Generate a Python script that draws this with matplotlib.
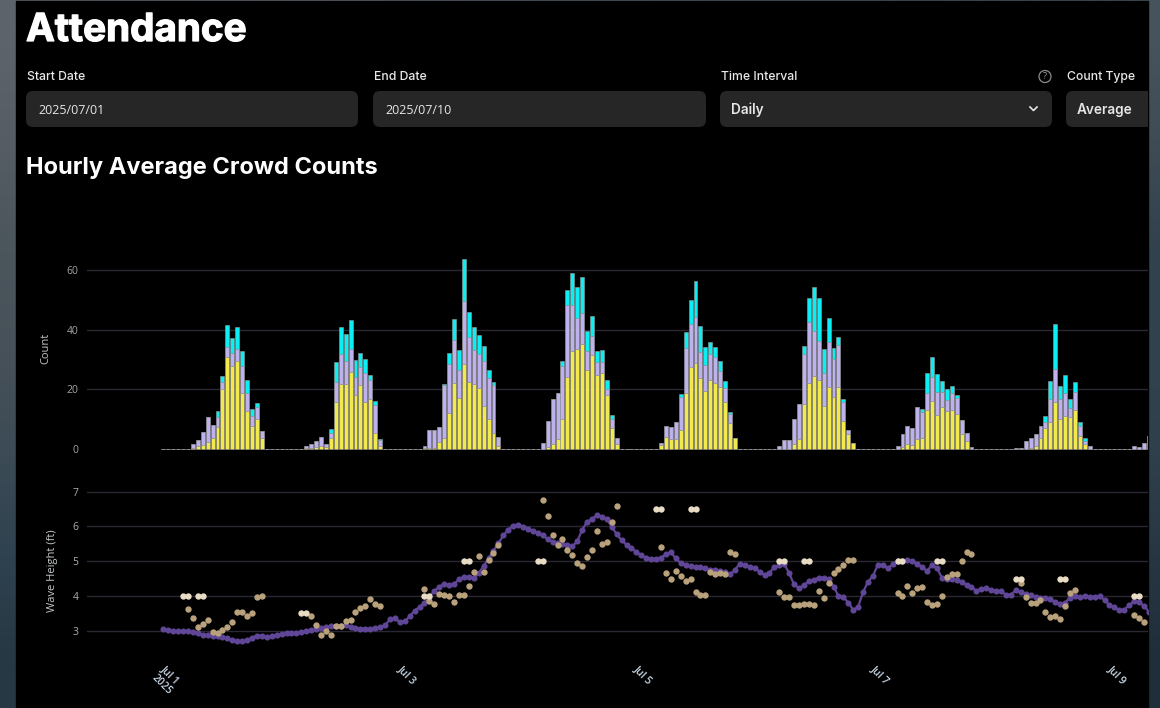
#Hourly crowd counts and wave height dashboard
import numpy as np
from matplotlib import pyplot as plt
from matplotlib import patheffects
from matplotlib.patches import FancyBboxPatch, Rectangle
from matplotlib.transforms import ScaledTranslation

W, H = 1160, 708

# first hour of each daily run of bars, hours counted from Jul 1 00:00
day_start = [6, 29, 53, 77, 101, 125, 149, 173, 197]

yellow_days = [
    [0.3, 1.0, 1.2, 2.2, 3.6, 7.3, 20.0, 30.8, 27.9, 29.5, 18.7, 12.8, 7.8, 10.0, 3.6],
    [0.2, 0.2, 0.8, 1.1, 0.8, 3.6, 15.8, 21.9, 21.9, 25.7, 18.1, 21.4, 15.6, 16.8, 5.4, 1.1],
    [0.2, 0.3, 0.4, 2.3, 3.6, 12.2, 22.0, 17.0, 28.4, 22.3, 21.9, 20.5, 14.3, 10.0, 5.5, 1.1],
    [0, 0.6, 1.6, 3.5, 10.2, 24.1, 32.9, 33.6, 35.2, 26.3, 31.6, 24.7, 25.4, 18.0, 6.9, 1.8],
    [1.3, 4.1, 3.2, 3.5, 6.3, 18.9, 27.4, 28.8, 23.7, 19.5, 23.1, 22.0, 20.7, 15.7, 8.7, 3.6],
    [0, 0, 0, 1.8, 3.5, 15.1, 22.0, 24.5, 23.2, 14.4, 20.7, 17.5, 20.8, 9.5, 4.9, 2.1],
    [0, 0.6, 1.8, 1.2, 3.5, 3.8, 13.0, 16.2, 11.5, 14.0, 12.6, 13.2, 11.6, 5.1, 2.6, 0],
    [0, 0, 0, 0.4, 1.1, 3.8, 7.2, 9.0, 15.7, 10.1, 11.1, 10.6, 13.0, 4.3, 1.8, 0],
    [0, 0, 0, 0.4],
]
purple_days = [
    [1.3, 2.0, 4.4, 8.5, 4.3, 3.4, 2.3, 3.4, 4.3, 4.1, 9.1, 5.9, 3.4, 4.0, 2.3],
    [0.8, 1.5, 1.9, 2.9, 1.0, 1.9, 6.5, 10.0, 7.7, 7.9, 5.9, 6.0, 9.7, 6.4, 9.2, 1.9],
    [0.9, 5.9, 5.8, 5.1, 17.9, 16.3, 14.5, 9.4, 21.3, 15.2, 11.4, 11.2, 15.3, 13.9, 15.8, 2.9],
    [2.1, 8.8, 15.0, 15.3, 17.7, 24.1, 15.2, 10.3, 10.3, 6.5, 6.4, 4.6, 3.9, 2.2, 3.1, 1.9],
    [0.8, 3.7, 4.3, 5.5, 11.1, 14.8, 14.5, 15.4, 8.7, 8.7, 8.8, 8.7, 5.4, 4.6, 3.1, 0],
    [1.1, 3.0, 3.0, 8.1, 11.6, 16.7, 20.6, 15.1, 13.0, 11.0, 15.1, 12.8, 13.9, 6.3, 1.6, 0],
    [1.0, 4.3, 5.9, 5.9, 10.5, 8.7, 5.8, 7.8, 7.5, 5.0, 3.7, 5.4, 5.4, 4.6, 2.9, 0.6],
    [0.3, 0.3, 2.6, 3.2, 4.0, 3.9, 2.0, 7.9, 11.0, 6.5, 7.6, 3.2, 6.0, 3.5, 1.0, 1.0],
    [1.0, 0.6, 2.1, 4.0],
]
cyan_days = [
    [0, 0, 0, 0, 0, 2.1, 2.3, 7.3, 4.9, 7.4, 5.1, 4.5, 2.1, 1.5, 0],
    [0, 0, 0, 0, 0, 1.3, 6.7, 9.1, 9.0, 9.5, 5.8, 4.8, 4.9, 1.6, 1.6, 0.2],
    [0, 0, 0, 0, 0.2, 3.5, 6.9, 6.6, 14.0, 8.4, 7.4, 6.5, 4.9, 2.5, 1.1, 0],
    [0, 0, 0, 0, 1.7, 5.0, 11.0, 10.3, 12.1, 6.6, 6.5, 3.6, 3.7, 3.0, 1.3, 0],
    [0, 0, 0, 0, 1.1, 5.5, 8.1, 12.1, 8.7, 5.9, 4.0, 3.5, 3.5, 2.5, 0.7, 0],
    [0, 0, 0, 0, 0.1, 2.8, 8.1, 14.5, 14.3, 8.2, 8.1, 3.4, 2.9, 1.0, 0, 0],
    [0, 0, 0, 0, 0, 1.0, 6.6, 6.7, 6.2, 3.9, 3.7, 2.6, 1.0, 0, 0, 0],
    [0, 0, 0, 0, 0, 0, 1.7, 6.0, 15.2, 4.5, 6.2, 3.1, 3.6, 1.3, 0.9, 0],
    [0, 0, 0, 0],
]

# hourly wave height, first point is Jul 1 00:00
wave_line = [
    3.04, 3.02, 3.00, 2.98, 2.98, 2.99, 2.97, 2.92, 2.89, 2.87, 2.85, 2.84, 2.82, 2.78, 2.73, 2.71, 2.71,
    2.73, 2.80, 2.86, 2.86, 2.83, 2.84, 2.88, 2.91, 2.92, 2.93, 2.93, 2.97, 2.99, 3.01, 3.04, 3.08, 3.10,
    3.13, 3.14, 3.14, 3.16, 3.11, 3.07, 3.06, 3.06, 3.06, 3.08, 3.11, 3.15, 3.33, 3.36, 3.24, 3.27, 3.41,
    3.58, 3.68, 3.81, 3.98, 4.14, 4.27, 4.34, 4.31, 4.34, 4.48, 4.55, 4.54, 4.51, 4.65, 4.86, 5.08, 5.30,
    5.51, 5.74, 5.90, 6.02, 6.05, 5.99, 5.92, 5.87, 5.81, 5.74, 5.63, 5.56, 5.51, 5.49, 5.45, 5.42, 5.57,
    5.90, 6.13, 6.21, 6.32, 6.28, 6.21, 5.99, 5.77, 5.60, 5.47, 5.37, 5.26, 5.17, 5.10, 5.07, 5.07, 5.10,
    5.20, 5.25, 5.08, 4.94, 4.89, 4.86, 4.84, 4.82, 4.79, 4.75, 4.74, 4.72, 4.68, 4.62, 4.75, 4.93, 4.88,
    4.82, 4.79, 4.70, 4.60, 4.67, 4.82, 4.89, 4.92, 4.65, 4.33, 4.22, 4.31, 4.42, 4.47, 4.52, 4.52, 4.50,
    4.27, 4.00, 3.96, 3.81, 3.60, 3.69, 4.11, 4.41, 4.57, 4.90, 4.90, 4.79, 4.91, 4.99, 5.01, 5.02, 4.99,
    4.93, 4.82, 4.72, 4.89, 4.80, 4.52, 4.50, 4.50, 4.47, 4.40, 4.32, 4.25, 4.15, 4.20, 4.24, 4.17, 4.14,
    4.14, 4.03, 4.04, 4.16, 4.12, 4.06, 4.03, 3.98, 3.95, 3.94, 3.92, 3.82, 3.76, 3.81, 3.95, 4.00, 3.98,
    3.99, 3.98, 3.96, 4.00, 3.88, 3.74, 3.67, 3.60, 3.60, 3.74, 3.84, 3.82, 3.71, 3.55,
]

tan_hours = [
    5, 6, 7, 8, 9, 10, 11, 12, 13, 14, 15, 16, 17, 18, 19, 20,
    30, 31, 32, 33, 34, 35, 36, 37, 38, 39, 40, 41, 42, 43, 44,
    53, 54, 55, 56, 57, 58, 59, 60, 61, 62, 63, 64, 65, 66, 67, 68,
    77, 78, 79, 80, 81, 82, 83, 84, 85, 86, 87, 88, 89, 90, 91, 92,
    101, 102, 103, 104, 105, 106, 107, 108, 109, 110, 111, 112, 113, 114, 115, 116,
    125, 126, 127, 128, 129, 130, 131, 132, 133, 134, 135, 136, 137, 138, 139, 140,
    149, 150, 151, 152, 153, 154, 155, 156, 157, 158, 159, 160, 161, 162, 163, 164,
    174, 175, 176, 177, 178, 179, 180, 181, 182, 183, 184, 185,
    197, 198, 199,
]
tan_values = [
    3.62, 3.36, 3.12, 3.20, 3.31, 2.95, 2.94, 3.02, 3.12, 3.26, 3.55, 3.55, 3.42, 3.52, 3.98, 4.01,
    3.43, 3.16, 2.88, 3.00, 2.89, 3.14, 3.14, 3.28, 3.30, 3.53, 3.65, 3.70, 3.92, 3.78, 3.72,
    4.19, 3.85, 3.76, 4.06, 4.03, 4.00, 3.83, 4.03, 4.02, 4.29, 4.68, 5.14, 4.70, 5.04, 5.23, 5.47,
    6.75, 6.30, 5.74, 5.46, 5.63, 5.31, 5.17, 4.94, 4.87, 5.12, 5.32, 5.87, 5.48, 5.55, 6.12, 6.58,
    5.40, 4.65, 4.48, 4.72, 4.58, 4.44, 4.49, 4.11, 4.04, 4.03, 4.69, 4.62, 4.65, 4.62, 5.26, 5.21,
    4.12, 3.96, 3.96, 3.73, 3.73, 3.78, 3.77, 3.73, 4.13, 3.95, 4.36, 4.66, 4.76, 4.89, 5.04, 5.04,
    4.07, 3.99, 4.29, 4.07, 4.24, 4.26, 3.82, 3.74, 3.78, 4.01, 4.55, 4.62, 4.63, 5.01, 5.26, 5.21,
    4.38, 3.96, 3.79, 3.81, 3.88, 3.53, 3.39, 3.42, 3.33, 3.71, 4.09, 4.18,
    3.44, 3.36, 3.24,
]

beige_hours = [4, 5, 7, 8, 28, 29, 53, 54, 61, 62, 76, 77, 100, 101, 107, 108,
               125, 126, 130, 131, 149, 150, 157, 158, 173, 174, 182, 183, 197, 198]
beige_values = [4, 4, 4, 4, 3.5, 3.5, 4, 4, 5, 5, 5, 5, 6.5, 6.5, 6.5, 6.5,
                5, 5, 5, 5, 5, 5, 5, 5, 4.5, 4.5, 4.5, 4.5, 4, 4]

count_ticks = [0, 20, 40, 60]
wave_ticks = [3, 4, 5, 6, 7]
date_ticks = [0, 48, 96, 144, 192]
date_labels = ['Jul 1\n2025', 'Jul 3', 'Jul 5', 'Jul 7', 'Jul 9']

hours = np.arange(len(wave_line))
yellow = np.zeros(len(hours))
purple = np.zeros(len(hours))
cyan = np.zeros(len(hours))
for start, y_day, p_day, c_day in zip(day_start, yellow_days, purple_days, cyan_days):
    yellow[start:start + len(y_day)] = y_day
    purple[start:start + len(p_day)] = p_day
    cyan[start:start + len(c_day)] = c_day

plt.rcParams['font.family'] = ['Open Sans', 'DejaVu Sans']
fig = plt.figure(figsize=(W / 100, H / 100), dpi=100)

# page in pixel coordinates: blurred sea behind, black panel, form controls
page = fig.add_axes([0, 0, 1, 1])
page.axis('off')
sea_left = ['#5d636a', '#555c63', '#4b555c', '#475159', '#3c4b56', '#2f424f', '#263844']
sea_right = ['#45535c', '#3d4b54', '#30424d', '#31434e', '#2e404b', '#263743', '#1f2f3a']
to_rgb = lambda c: [int(c[i:i + 2], 16) / 255 for i in (1, 3, 5)]
sea = np.array([[to_rgb(a), to_rgb(b)] for a, b in zip(sea_left, sea_right)])
page.imshow(sea, extent=(0, W, H, 0), aspect='auto', interpolation='bilinear')
page.set_xlim(0, W)
page.set_ylim(H, 0)
panel = Rectangle((16, 1), 1132, H, color='black', zorder=1)
page.add_patch(panel)

thicker = [patheffects.withStroke(linewidth=0.9, foreground='white')]
page.text(26, 31, 'Attendance', color='white', fontsize=27.8, fontweight='bold', family='Inter', va='center',
          zorder=3, path_effects=thicker)
page.text(26, 168, 'Hourly Average Crowd Counts', color='white', fontsize=17, fontweight='bold', family='Inter',
          va='center', zorder=3)

boxes = [(26, 358, 'Start Date', '2025/07/01'), (373, 706, 'End Date', '2025/07/10'),
         (720, 1052, 'Time Interval', 'Daily'), (1066, 1200, 'Count Type', 'Average')]
for left, right, label, value in boxes:
    box = FancyBboxPatch((left, 91), right - left, 36, boxstyle='round,pad=0,rounding_size=7',
                         facecolor='#262626', linewidth=0, zorder=2)
    page.add_patch(box)
    box.set_clip_path(panel)
    page.text(left + 1, 77, label, color='#e8e8e8', fontsize=8.8, fontweight='medium', family='Inter', va='center', zorder=3)
    bold = left >= 720
    page.text(left + (11 if bold else 12), 110, value, color='#e6e6e6', fontsize=9.8 if bold else 9,
              fontweight='semibold' if bold else 'normal', family='Inter' if bold else 'Open Sans', va='center', zorder=3)
page.plot([1030, 1033.5, 1037], [107, 110.5, 107], color='#e6e6e6', lw=1.2, zorder=3)
page.add_patch(plt.Circle((1045, 76.5), 6, fill=False, edgecolor='#8c8c8c', lw=0.9, zorder=3))
page.text(1045, 76.5, '?', color='#a0a0a0', fontsize=6.5, ha='center', va='center', zorder=3)


def px_axes(left, top, right, bottom):
    ax = fig.add_axes([left / W, 1 - bottom / H, (right - left) / W, (bottom - top) / H])
    ax.patch.set_alpha(0)
    for s in ax.spines.values():
        s.set_visible(False)
    ax.set_xlim((left - 163.3) / 4.928, (right - 163.3) / 4.928)
    return ax


# crowd counts, axes run a little below zero so the empty hours still show
ax1 = px_axes(87, 240, 1148, 451)
ax1.set_ylim(-2 / 2.983, 70)
edge = dict(edgecolor='#9a9a9a', linewidth=0.4, width=0.8)
ax1.bar(hours, yellow, color='#f2e94e', zorder=3, **edge)
ax1.bar(hours, purple, bottom=yellow, color='#bdb2ee', zorder=3, **edge)
ax1.bar(hours, cyan, bottom=yellow + purple, color='#0aeef4', zorder=3, **edge)
ax1.set_yticks(count_ticks)
ax1.set_xticks([])
ax1.grid(axis='y', color='#292731', linewidth=1, zorder=0)
ax1.get_ygridlines()[0].set_visible(False)
ax1.tick_params(axis='y', length=0, colors='#a3a3a3', labelsize=7.5, pad=6)
ax1.text(46, 348, 'Count', color='#c4c4c4', fontsize=8, rotation=90, ha='center', va='center',
         transform=page.transData)

# wave height
ax2 = px_axes(87, 481, 1148, 650)
ax2.set_ylim(3 - (650 - 630.7) / 34.8, 7 + (491.5 - 481) / 34.8)
ax2.plot(hours, wave_line, '-o', color='#5f4696', linewidth=1.6, markersize=4.4, markeredgewidth=0, zorder=3)
ax2.scatter(tan_hours, tan_values, s=21, color='#b9a17b', linewidths=0, zorder=4)
ax2.scatter(beige_hours, beige_values, s=21, color='#e8dcc4', linewidths=0, zorder=5)
ax2.set_yticks(wave_ticks)
ax2.grid(axis='y', color='#292731', linewidth=1, zorder=0)
ax2.tick_params(axis='y', length=0, colors='#a9b0b5', labelsize=7.5, pad=6)
ax2.set_xticks(date_ticks)
ax2.set_xticklabels(date_labels, rotation=-45, ha='left', va='top', rotation_mode='anchor', color='#c9d8e6',
                    fontsize=7.5, fontweight='semibold')
ax2.tick_params(axis='x', length=0, pad=10)
shift = ScaledTranslation(3 / 100, 0, fig.dpi_scale_trans)
for lbl in ax2.get_xticklabels():
    lbl.set_transform(lbl.get_transform() + shift)
ax2.text(52, 571, 'Wave Height (ft)', color='#c4c9cc', fontsize=8, rotation=90, ha='center', va='center',
         transform=page.transData)

fig.savefig('out.png', dpi=100, facecolor='black')
